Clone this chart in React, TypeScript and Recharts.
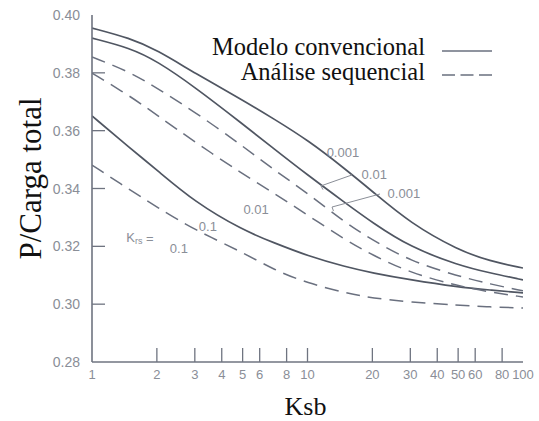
import React from 'react'
import { LineChart, Line, XAxis, YAxis, Label, ReferenceDot, ReferenceLine } from 'recharts'

// Ksb sample points (log axis) and P/Carga total
const ksb = [1, 1.5, 2, 3, 5, 7, 10, 15, 20, 30, 50, 70, 100]
const conv0001 = [0.3955, 0.392, 0.3879, 0.3799, 0.3706, 0.364, 0.3568, 0.3467, 0.339, 0.328, 0.3187, 0.3149, 0.3125]
const conv001 = [0.392, 0.3886, 0.3841, 0.3751, 0.3623, 0.3537, 0.3447, 0.335, 0.3282, 0.3197, 0.3135, 0.3108, 0.3084]
const conv01 = [0.3651, 0.354, 0.3464, 0.3353, 0.3256, 0.3212, 0.3167, 0.3129, 0.3108, 0.3084, 0.3059, 0.3049, 0.3039]
const seq0001 = [0.3855, 0.3803, 0.3747, 0.3665, 0.3547, 0.3464, 0.3384, 0.3281, 0.3222, 0.3149, 0.3097, 0.307, 0.3046]
const seq001 = [0.3799, 0.372, 0.3654, 0.3561, 0.345, 0.3384, 0.3308, 0.3222, 0.317, 0.3108, 0.3063, 0.3042, 0.3025]
const seq01 = [0.3481, 0.3395, 0.3336, 0.3256, 0.318, 0.3118, 0.3073, 0.3039, 0.3021, 0.3007, 0.2997, 0.299, 0.2987]

const xTicks = [1, 2, 3, 4, 5, 6, 8, 10, 20, 30, 40, 50, 60, 80, 100]
const yTicks = [0.28, 0.3, 0.32, 0.34, 0.36, 0.38, 0.4]
const legendNames = ['Modelo convencional', 'Análise sequencial']

// Krs labels on the curves
const noteText = ['0.001', '0.01', '0.001', '0.01', '0.1', '0.1']
const noteX = [14.6, 20.4, 28.0, 5.77, 3.45, 2.53]
const noteY = [0.3523, 0.3447, 0.3384, 0.3326, 0.327, 0.3194]
const leaders = [
  [{ x: 16.1, y: 0.3447 }, { x: 11.55, y: 0.3409 }],
  [{ x: 11.55, y: 0.3409 }, { x: 11.8, y: 0.3396 }],
  [{ x: 21.7, y: 0.3381 }, { x: 13.0, y: 0.3336 }],
  [{ x: 13.0, y: 0.3336 }, { x: 13.2, y: 0.3322 }],
]

const rows = ksb.map((k, i) => ({
  k,
  c1: conv0001[i], c2: conv001[i], c3: conv01[i],
  s1: seq0001[i], s2: seq001[i], s3: seq01[i],
}))

const FRAME = '#6f7480'
const SOLID = '#505662'
const DASHED = '#6a707f'
const TICK_TXT = '#8a8e97'
const SANS = '"Liberation Sans", Arial, sans-serif'
const SERIF = '"Liberation Serif", "DejaVu Serif", "Times New Roman", Times, serif'
const DASH = '14 8'

const BottomTick = (p: any) => {
  const v = p.payload.value
  return (
    <g>
      {v !== 1 && v !== 100 && <line x1={p.x} x2={p.x} y1={p.y} y2={p.y - 14} stroke={FRAME} strokeWidth={1.3} />}
      <text x={p.x} y={p.y + 17} textAnchor="middle" fill={TICK_TXT} fontSize={13} fontFamily={SANS}>{v}</text>
    </g>
  )
}
const TopTick = (p: any) => {
  const v = p.payload.value
  if (v === 1 || v === 100) return <g />
  return <line x1={p.x} x2={p.x} y1={p.y} y2={p.y + 13} stroke={FRAME} strokeWidth={1.3} />
}
const LeftTick = (p: any) => {
  const v = p.payload.value
  const edge = v < 0.285 || v > 0.395
  return (
    <g>
      {!edge && <line x1={p.x} x2={p.x + 13} y1={p.y} y2={p.y} stroke={FRAME} strokeWidth={1.3} />}
      <text x={p.x - 12} y={p.y + 5} textAnchor="end" fill={TICK_TXT} fontSize={14} fontFamily={SANS}>{v.toFixed(2)}</text>
    </g>
  )
}
const RightTick = (p: any) => {
  const v = p.payload.value
  if (v < 0.285 || v > 0.395) return <g />
  return <line x1={p.x} x2={p.x - 11} y1={p.y} y2={p.y} stroke={FRAME} strokeWidth={1.3} />
}

const noteShape = (txt: string) => (p: any) => (
  <text x={p.cx} y={p.cy} textAnchor="middle" dominantBaseline="central" fill={TICK_TXT} fontSize={13} fontFamily={SANS}>{txt}</text>
)
const krsShape = (p: any) => (
  <text x={p.cx} y={p.cy} textAnchor="middle" dominantBaseline="central" fill={TICK_TXT} fontSize={13} fontFamily={SANS}>
    K<tspan fontSize={9} dy={3}>rs</tspan><tspan dy={-3}> =</tspan>
  </text>
)

export default function App() {
  return (
    <div style={{ position: 'absolute', left: 0, top: 0, width: 539, height: 421, background: '#fff' }}>
      <LineChart width={539} height={421} data={rows} margin={{ top: 15, right: 16, left: 0, bottom: 0 }}>
        <XAxis dataKey="k" type="number" scale="log" domain={[1, 100]} ticks={xTicks} interval={0}
          allowDataOverflow height={59} tickSize={0} tickMargin={0} tickLine={false}
          axisLine={{ stroke: FRAME, strokeWidth: 1.6 }} tick={<BottomTick />}>
          <Label content={(p: any) => (
            <text x={p.viewBox.x + p.viewBox.width / 2 - 2} y={p.viewBox.y + 53} textAnchor="middle"
              fontSize={26} fontFamily={SERIF} fill="#111">Ksb</text>
          )} />
        </XAxis>
        <XAxis xAxisId="top" orientation="top" dataKey="k" type="number" scale="log" domain={[1, 100]}
          ticks={xTicks} interval={0} allowDataOverflow height={0} tickSize={0} tickMargin={0} tickLine={false}
          axisLine={{ stroke: FRAME, strokeWidth: 1.6 }} tick={<TopTick />} />
        <YAxis type="number" domain={[0.28, 0.4]} ticks={yTicks} interval={0} allowDataOverflow width={92}
          tickSize={0} tickMargin={0} tickLine={false} axisLine={{ stroke: FRAME, strokeWidth: 1.6 }} tick={<LeftTick />}>
          <Label content={(p: any) => {
            const cx = p.viewBox.x + 30
            const cy = p.viewBox.y + p.viewBox.height / 2 - 10
            return (
              <text x={cx} y={cy} transform={`rotate(-90 ${cx} ${cy})`} textAnchor="middle" dominantBaseline="central"
                fontSize={31} fontFamily={SERIF} fill="#111">P/Carga total</text>
            )
          }} />
        </YAxis>
        <YAxis yAxisId="right" orientation="right" type="number" domain={[0.28, 0.4]} ticks={yTicks} interval={0}
          allowDataOverflow width={0} tickSize={0} tickMargin={0} tickLine={false}
          axisLine={{ stroke: FRAME, strokeWidth: 1.6 }} tick={<RightTick />} />

        <Line dataKey="c1" type="basis" stroke={SOLID} strokeWidth={1.7} dot={false} isAnimationActive={false} />
        <Line dataKey="c2" type="basis" stroke={SOLID} strokeWidth={1.7} dot={false} isAnimationActive={false} />
        <Line dataKey="c3" type="basis" stroke={SOLID} strokeWidth={1.7} dot={false} isAnimationActive={false} />
        <Line dataKey="s1" type="basis" stroke={DASHED} strokeWidth={1.5} strokeDasharray={DASH} dot={false} isAnimationActive={false} />
        <Line dataKey="s2" type="basis" stroke={DASHED} strokeWidth={1.5} strokeDasharray={DASH} dot={false} isAnimationActive={false} />
        <Line dataKey="s3" type="basis" stroke={DASHED} strokeWidth={1.5} strokeDasharray={DASH} dot={false} isAnimationActive={false} />

        {leaders.map((seg, i) => (
          <ReferenceLine key={'l' + i} segment={seg} stroke={TICK_TXT} strokeWidth={1} ifOverflow="visible" />
        ))}
        {noteText.map((t, i) => (
          <ReferenceDot key={'n' + i} x={noteX[i]} y={noteY[i]} r={0} shape={noteShape(t)} ifOverflow="visible" />
        ))}
        <ReferenceDot x={1.67} y={0.3229} r={0} shape={krsShape} ifOverflow="visible" />
      </LineChart>

      <div style={{ position: 'absolute', right: 47, top: 34, display: 'flex', flexDirection: 'column', alignItems: 'flex-end',
        fontFamily: SERIF, fontSize: 24.5, color: '#111' }}>
        {legendNames.map((name, i) => (
          <div key={name} style={{ display: 'flex', alignItems: 'center', height: 25, lineHeight: '25px' }}>
            <span>{name}</span>
            <svg width={50} height={25} style={{ marginLeft: 17 }}>
              <line x1={0} x2={50} y1={i === 0 ? 17 : 16} y2={i === 0 ? 17 : 16} stroke={DASHED} strokeWidth={1.6}
                strokeDasharray={i === 0 ? undefined : '13 5.5'} />
            </svg>
          </div>
        ))}
      </div>
    </div>
  )
}
